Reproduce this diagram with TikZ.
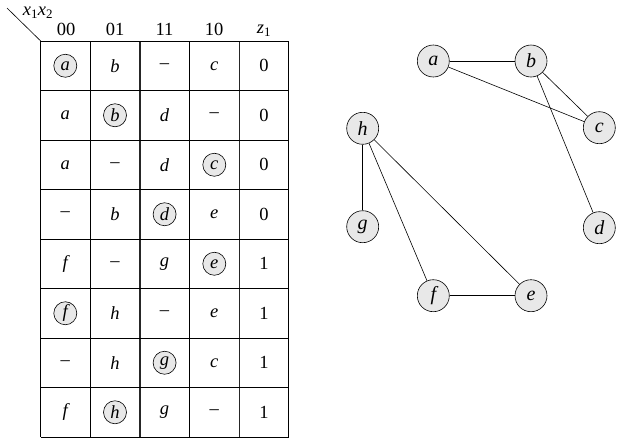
\documentclass[tikz,border=0pt]{standalone}
\usepackage{fontspec}
\setmainfont{Liberation Serif}
\begin{document}
\begin{tikzpicture}[x=1pt,y=-1pt,
  cell/.style={font=\fontsize{18.5}{18.5}\selectfont, inner sep=0pt},
  st/.style={circle, draw, line width=0.6pt, fill=black!9, minimum size=23pt, inner sep=0pt, font=\fontsize{18.5}{18.5}\selectfont},
  gn/.style={circle, draw, line width=0.6pt, fill=black!9, minimum size=32pt, inner sep=0pt, font=\fontsize{20}{20}\selectfont},
  edge/.style={draw, line width=0.6pt}]
\useasboundingbox (0,0) rectangle (637,445);
% grid
\foreach \x in {40.7,90,189.3,288.7} \draw[line width=0.8pt] (\x,41) -- (\x,437);
\foreach \x in {140,239.3} \draw[line width=1.3pt,black!85] (\x,41) -- (\x,437);
\foreach \i in {0,...,8} \draw[line width=0.8pt] (40.7,41+49.5*\i) -- (288.7,41+49.5*\i);
\draw[line width=0.6pt] (7,8) -- (40.7,41);
\node[cell] (hx) at (38,13) {\textit{x}\textsubscript{1}\textit{x}\textsubscript{2}};
\node[cell] (h00) at (66,29) {00};
\node[cell] (h01) at (115,29) {01};
\node[cell] (h11) at (164.5,29) {11};
\node[cell] (h10) at (214,29) {10};
\node[cell] (hz) at (264,31) {\textit{z}\textsubscript{1}};
% cells
\def\cx#1{\ifcase#1 65.3\or 115\or 164.6\or 214.3\or 264\fi}
\foreach \r/\a/\b/\c/\d/\z/\s in {
 0/a/b/x/c/0/0,
 1/a/b/d/x/0/1,
 2/a/x/d/c/0/3,
 3/x/b/d/e/0/2,
 4/f/x/g/e/1/3,
 5/f/h/x/e/1/0,
 6/x/h/g/c/1/2,
 7/f/h/g/x/1/1}{
  \pgfmathsetmacro{\yy}{65.75+49.5*\r}
  \foreach \k/\t in {0/\a,1/\b,2/\c,3/\d}{
    \ifnum\k=\s
      \node[st] (s\r\k) at (\cx{\k},\yy) {\itshape\t};
    \else
      \node[cell] (c\r\k) at (\cx{\k},\yy) {\if\t x\textendash\else\itshape\t\fi};
    \fi
  }
  \node[cell] (z\r) at (264,\yy) {\z};
}
% graph
\node[gn] (a) at (433.3,61) {\itshape a};
\node[gn] (b) at (531,61) {\itshape b};
\node[gn] (c) at (599.3,127.7) {\itshape c};
\node[gn] (d) at (599.3,227.7) {\itshape d};
\node[gn] (e) at (531,295.7) {\itshape e};
\node[gn] (f) at (433.3,295.7) {\itshape f};
\node[gn] (g) at (362.7,226.7) {\itshape g};
\node[gn] (h) at (362.7,128.3) {\itshape h};
\draw[edge] (a) -- (b);
\draw[edge] (a) -- (c);
\draw[edge] (b) -- (c);
\draw[edge] (b) -- (d);
\draw[edge] (h) -- (g);
\draw[edge] (h) -- (f);
\draw[edge] (h) -- (e);
\draw[edge] (f) -- (e);
\end{tikzpicture}
\end{document}
